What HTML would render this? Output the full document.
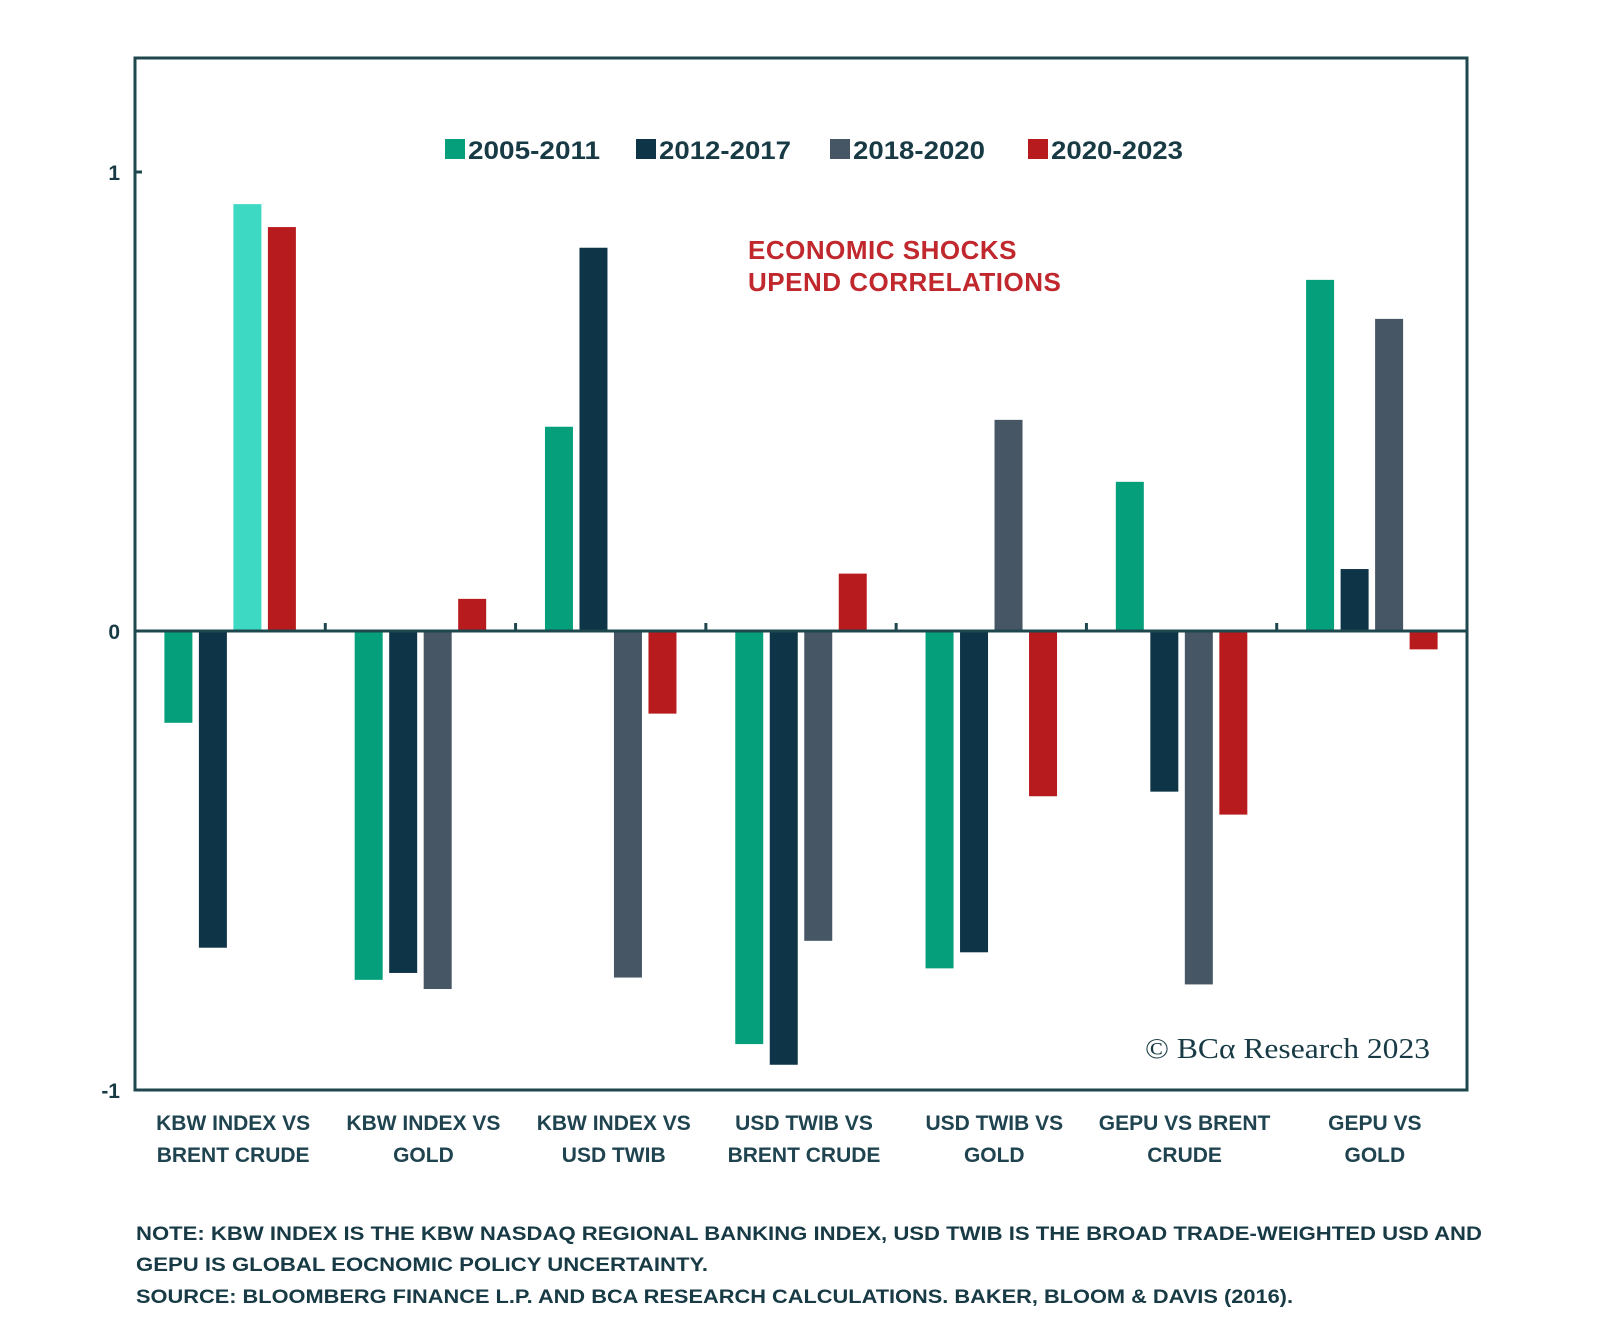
<!DOCTYPE html>
<html><head><meta charset="utf-8"><style>
html,body{margin:0;padding:0;background:#fff;}
svg{display:block;}
text{font-family:"Liberation Sans",sans-serif;}
</style></head><body>
<svg id="chart" width="1600" height="1332" viewBox="0 0 1600 1332">
<rect x="0" y="0" width="1600" height="1332" fill="#fff"/>
<rect x="135" y="58" width="1332" height="1032" fill="none" stroke="#1f474e" stroke-width="3"/>
<g id="bars"></g>
<g id="axis"></g>
<g>
 <g><rect x="445" y="139" width="20" height="20" fill="#05a07b"/><text x="468" y="159" font-size="25" font-weight="bold" fill="#173a45" textLength="132" lengthAdjust="spacingAndGlyphs">2005-2011</text></g>
 <g><rect x="636" y="139" width="20" height="20" fill="#0e3547"/><text x="659" y="159" font-size="25" font-weight="bold" fill="#173a45" textLength="132" lengthAdjust="spacingAndGlyphs">2012-2017</text></g>
 <g><rect x="830" y="139" width="20" height="20" fill="#465665"/><text x="853" y="159" font-size="25" font-weight="bold" fill="#173a45" textLength="132" lengthAdjust="spacingAndGlyphs">2018-2020</text></g>
 <g><rect x="1028" y="139" width="20" height="20" fill="#b81b1e"/><text x="1051" y="159" font-size="25" font-weight="bold" fill="#173a45" textLength="132" lengthAdjust="spacingAndGlyphs">2020-2023</text></g>
</g>
<text x="748" y="259" font-size="26" font-weight="bold" fill="#c0282d" letter-spacing="0.5">ECONOMIC SHOCKS</text>
<text x="748" y="291" font-size="26" font-weight="bold" fill="#c0282d" letter-spacing="0.5">UPEND CORRELATIONS</text>
<text x="1145" y="1058" font-size="29" fill="#173a45" style="font-family:'Liberation Serif',serif" textLength="285" lengthAdjust="spacingAndGlyphs">© BCα Research 2023</text>
<g id="xlabels"></g>
<g>
<text x="136" y="1240" font-size="19" font-weight="bold" fill="#173a45" textLength="1346" lengthAdjust="spacingAndGlyphs">NOTE: KBW INDEX IS THE KBW NASDAQ REGIONAL BANKING INDEX, USD TWIB IS THE BROAD TRADE-WEIGHTED USD AND</text>
<text x="136" y="1271" font-size="19" font-weight="bold" fill="#173a45" textLength="572" lengthAdjust="spacingAndGlyphs">GEPU IS GLOBAL EOCNOMIC POLICY UNCERTAINTY.</text>
<text x="136" y="1303" font-size="19" font-weight="bold" fill="#173a45" textLength="1157" lengthAdjust="spacingAndGlyphs">SOURCE: BLOOMBERG FINANCE L.P. AND BCA RESEARCH CALCULATIONS. BAKER, BLOOM &amp; DAVIS (2016).</text>
</g>
</svg>
<script>
const categories = [["KBW INDEX VS","BRENT CRUDE"],["KBW INDEX VS","GOLD"],["KBW INDEX VS","USD TWIB"],["USD TWIB VS","BRENT CRUDE"],["USD TWIB VS","GOLD"],["GEPU VS BRENT","CRUDE"],["GEPU VS","GOLD"]];
const seriesNames = ["2005-2011","2012-2017","2018-2020","2020-2023"];
const s2005 = [-0.2, -0.76, 0.445, -0.9, -0.735, 0.325, 0.765];
const s2012 = [-0.69, -0.745, 0.835, -0.945, -0.7, -0.35, 0.135];
const s2018 = [0.93, -0.78, -0.755, -0.675, 0.46, -0.77, 0.68];
const s2020 = [0.88, 0.07, -0.18, 0.125, -0.36, -0.4, -0.04];
const yTicks = [1, 0, -1];
const yTickLabels = ["1","0","-1"];

const NS="http://www.w3.org/2000/svg";
const colors=["#05a07b","#0e3547","#465665","#b81b1e"];
const plotL=135, plotR=1467, yTop=172, yBot=1090;
const ymin=-1, ymax=1;
function y(v){return yBot-(v-ymin)/(ymax-ymin)*(yBot-yTop);}
const gw=(plotR-plotL)/categories.length;
function gx(i){return plotL+i*gw;}
const bw=28, step=34.5;
const series=[s2005,s2012,s2018,s2020];
const bars=document.getElementById('bars');
categories.forEach((c,i)=>{
  const start=gx(i)+(gw-(step*3+bw))/2;
  series.forEach((s,k)=>{
    const v=s[i];
    const r=document.createElementNS(NS,'rect');
    r.setAttribute('x',start+k*step);
    r.setAttribute('y',Math.min(y(v),y(0)));
    r.setAttribute('width',bw);
    r.setAttribute('height',Math.abs(y(v)-y(0)));
    let col=colors[k];
    if(i===0&&k===2) col="#3dd9c3";
    r.setAttribute('fill',col);
    
    
    bars.appendChild(r);
  });
});
const axis=document.getElementById('axis');
const zl=document.createElementNS(NS,'line');
zl.setAttribute('x1',plotL);zl.setAttribute('x2',plotR);zl.setAttribute('y1',y(0));zl.setAttribute('y2',y(0));
zl.setAttribute('stroke','#1f474e');zl.setAttribute('stroke-width','3');


axis.appendChild(zl);
for(let i=1;i<categories.length;i++){
  const t=document.createElementNS(NS,'line');
  t.setAttribute('x1',gx(i));t.setAttribute('x2',gx(i));t.setAttribute('y1',y(0)-8);t.setAttribute('y2',y(0));
  t.setAttribute('stroke','#1f474e');t.setAttribute('stroke-width','3');
  
  
  axis.appendChild(t);
}
yTicks.forEach((v,i)=>{
  const t=document.createElementNS(NS,'line');
  t.setAttribute('x1',plotL);t.setAttribute('x2',plotL+7);t.setAttribute('y1',y(v));t.setAttribute('y2',y(v));
  t.setAttribute('stroke','#1f474e');t.setAttribute('stroke-width','3');
  
  
  axis.appendChild(t);
  const tx=document.createElementNS(NS,'text');
  tx.setAttribute('x',120);tx.setAttribute('y',y(v)+8);tx.setAttribute('text-anchor','end');
  tx.setAttribute('font-size','21');tx.setAttribute('font-weight','bold');tx.setAttribute('fill','#173a45');
  tx.textContent=yTickLabels[i];
  
  
  axis.appendChild(tx);
});
const xl=document.getElementById('xlabels');
categories.forEach((c,i)=>{
  c.forEach((line,j)=>{
    const tx=document.createElementNS(NS,'text');
    tx.setAttribute('x',gx(i)+gw/2+3);tx.setAttribute('y',1130+j*32);tx.setAttribute('text-anchor','middle');
    tx.setAttribute('font-size','21');tx.setAttribute('font-weight','bold');tx.setAttribute('fill','#1f4450');
    tx.textContent=line;
    
    
    xl.appendChild(tx);
  });
});
</script>
</body></html>
